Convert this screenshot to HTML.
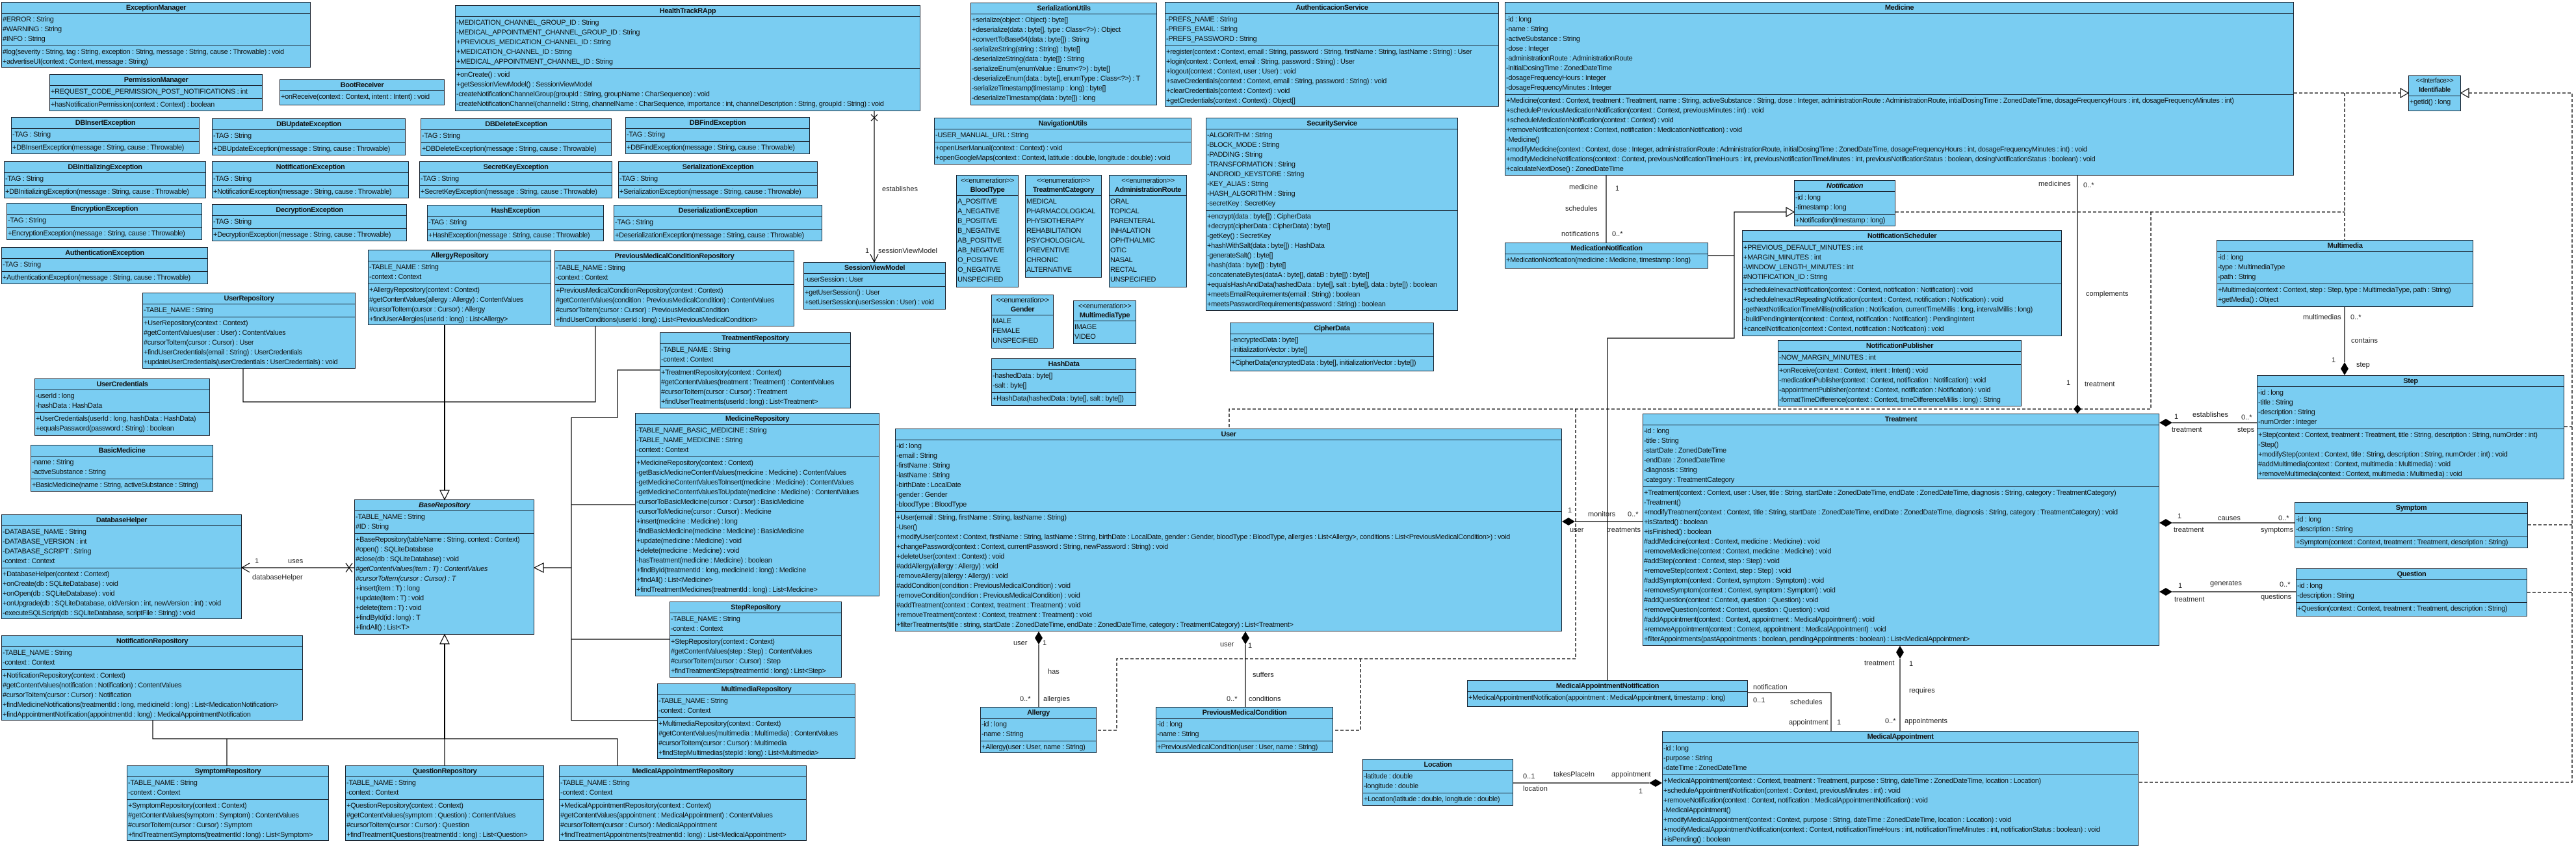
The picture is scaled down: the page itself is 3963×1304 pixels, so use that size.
<!DOCTYPE html>
<html><head><meta charset="utf-8">
<style>
body{margin:0;width:3963px;height:1304px;background:#fff;position:relative;overflow:hidden}
.b{position:absolute;background:#7acdf2;border:1.5px solid #1b2430;box-sizing:border-box;display:flex;flex-direction:column;font:11px "Liberation Sans",Arial,sans-serif;letter-spacing:-0.35px;overflow:hidden;white-space:nowrap;color:#111}
.h{text-align:center;font-weight:bold;border-bottom:1.5px solid #1b2430;line-height:14px;padding:1px 0;flex:none}
.h i{font-weight:bold}
.h span{font-weight:normal;display:block}
.s{line-height:15px;padding:2px 1px;border-bottom:1.5px solid #1b2430;flex:none}
.s:last-child{border-bottom:none;flex:1}
svg{position:absolute;left:0;top:0}
svg text{font:11px "Liberation Sans",Arial,sans-serif;fill:#222}
</style></head><body>

<div class="b" style="left:2px;top:3px;width:476px;height:101px"><div class="h">ExceptionManager</div><div class="s">#ERROR : String<br>#WARNING : String<br>#INFO : String</div><div class="s">#log(severity : String, tag : String, exception : String, message : String, cause : Throwable) : void<br>+advertiseUI(context : Context, message : String)</div></div>
<div class="b" style="left:76px;top:114px;width:328px;height:57px"><div class="h">PermissionManager</div><div class="s">+REQUEST_CODE_PERMISSION_POST_NOTIFICATIONS : int</div><div class="s">+hasNotificationPermission(context : Context) : boolean</div></div>
<div class="b" style="left:430px;top:122px;width:254px;height:40px"><div class="h">BootReceiver</div><div class="s">+onReceive(context : Context, intent : Intent) : void</div></div>

<div class="b" style="left:17px;top:180px;width:290px;height:57px"><div class="h">DBInsertException</div><div class="s">-TAG : String</div><div class="s">+DBInsertException(message : String, cause : Throwable)</div></div>
<div class="b" style="left:326px;top:182px;width:298px;height:57px"><div class="h">DBUpdateException</div><div class="s">-TAG : String</div><div class="s">+DBUpdateException(message : String, cause : Throwable)</div></div>
<div class="b" style="left:647px;top:182px;width:294px;height:58px"><div class="h">DBDeleteException</div><div class="s">-TAG : String</div><div class="s">+DBDeleteException(message : String, cause : Throwable)</div></div>
<div class="b" style="left:962px;top:180px;width:284px;height:57px"><div class="h">DBFindException</div><div class="s">-TAG : String</div><div class="s">+DBFindException(message : String, cause : Throwable)</div></div>
<div class="b" style="left:6px;top:248px;width:311px;height:57px"><div class="h">DBInitializingException</div><div class="s">-TAG : String</div><div class="s">+DBInitializingException(message : String, cause : Throwable)</div></div>
<div class="b" style="left:326px;top:248px;width:303px;height:57px"><div class="h">NotificationException</div><div class="s">-TAG : String</div><div class="s">+NotificationException(message : String, cause : Throwable)</div></div>
<div class="b" style="left:645px;top:248px;width:297px;height:57px"><div class="h">SecretKeyException</div><div class="s">-TAG : String</div><div class="s">+SecretKeyException(message : String, cause : Throwable)</div></div>
<div class="b" style="left:951px;top:248px;width:307px;height:57px"><div class="h">SerializationException</div><div class="s">-TAG : String</div><div class="s">+SerializationException(message : String, cause : Throwable)</div></div>
<div class="b" style="left:10px;top:312px;width:301px;height:57px"><div class="h">EncryptionException</div><div class="s">-TAG : String</div><div class="s">+EncryptionException(message : String, cause : Throwable)</div></div>
<div class="b" style="left:326px;top:314px;width:300px;height:57px"><div class="h">DecryptionException</div><div class="s">-TAG : String</div><div class="s">+DecryptionException(message : String, cause : Throwable)</div></div>
<div class="b" style="left:657px;top:315px;width:272px;height:56px"><div class="h">HashException</div><div class="s">-TAG : String</div><div class="s">+HashException(message : String, cause : Throwable)</div></div>
<div class="b" style="left:944px;top:315px;width:321px;height:56px"><div class="h">DeserializationException</div><div class="s">-TAG : String</div><div class="s">+DeserializationException(message : String, cause : Throwable)</div></div>
<div class="b" style="left:2px;top:380px;width:318px;height:57px"><div class="h">AuthenticationException</div><div class="s">-TAG : String</div><div class="s">+AuthenticationException(message : String, cause : Throwable)</div></div>

<div class="b" style="left:700px;top:8px;width:716px;height:163px"><div class="h">HealthTrackRApp</div><div class="s">-MEDICATION_CHANNEL_GROUP_ID : String<br>-MEDICAL_APPOINTMENT_CHANNEL_GROUP_ID : String<br>+PREVIOUS_MEDICATION_CHANNEL_ID : String<br>+MEDICATION_CHANNEL_ID : String<br>+MEDICAL_APPOINTMENT_CHANNEL_ID : String</div><div class="s">+onCreate() : void<br>+getSessionViewModel() : SessionViewModel<br>-createNotificationChannelGroup(groupId : String, groupName : CharSequence) : void<br>-createNotificationChannel(channelId : String, channelName : CharSequence, importance : int, channelDescription : String, groupId : String) : void</div></div>

<div class="b" style="left:1493px;top:4px;width:287px;height:158px"><div class="h">SerializationUtils</div><div class="s">+serialize(object : Object) : byte[]<br>+deserialize(data : byte[], type : Class&lt;?&gt;) : Object<br>+convertToBase64(data : byte[]) : String<br>-serializeString(string : String) : byte[]<br>-deserializeString(data : byte[]) : String<br>-serializeEnum(enumValue : Enum&lt;?&gt;) : byte[]<br>-deserializeEnum(data : byte[], enumType : Class&lt;?&gt;) : T<br>-serializeTimestamp(timestamp : long) : byte[]<br>-deserializeTimestamp(data : byte[]) : long</div></div>
<div class="b" style="left:1792px;top:3px;width:514px;height:161px"><div class="h">AuthenticacionService</div><div class="s">-PREFS_NAME : String<br>-PREFS_EMAIL : String<br>-PREFS_PASSWORD : String</div><div class="s">+register(context : Context, email : String, password : String, firstName : String, lastName : String) : User<br>+login(context : Context, email : String, password : String) : User<br>+logout(context : Context, user : User) : void<br>+saveCredentials(context : Context, email : String, password : String) : void<br>+clearCredentials(context : Context) : void<br>+getCredentials(context : Context) : Object[]</div></div>
<div class="b" style="left:1437px;top:181px;width:396px;height:72px"><div class="h">NavigationUtils</div><div class="s">-USER_MANUAL_URL : String</div><div class="s">+openUserManual(context : Context) : void<br>+openGoogleMaps(context : Context, latitude : double, longitude : double) : void</div></div>
<div class="b" style="left:1855px;top:181px;width:388px;height:297px"><div class="h">SecurityService</div><div class="s">-ALGORITHM : String<br>-BLOCK_MODE : String<br>-PADDING : String<br>-TRANSFORMATION : String<br>-ANDROID_KEYSTORE : String<br>-KEY_ALIAS : String<br>-HASH_ALGORITHM : String<br>-secretKey : SecretKey</div><div class="s">+encrypt(data : byte[]) : CipherData<br>+decrypt(cipherData : CipherData) : byte[]<br>-getKey() : SecretKey<br>+hashWithSalt(data : byte[]) : HashData<br>-generateSalt() : byte[]<br>+hash(data : byte[]) : byte[]<br>-concatenateBytes(dataA : byte[], dataB : byte[]) : byte[]<br>+equalsHashAndData(hashedData : byte[], salt : byte[], data : byte[]) : boolean<br>+meetsEmailRequirements(email : String) : boolean<br>+meetsPasswordRequirements(password : String) : boolean</div></div>
<div class="b" style="left:1892px;top:496px;width:314px;height:75px"><div class="h">CipherData</div><div class="s">-encryptedData : byte[]<br>-initializationVector : byte[]</div><div class="s">+CipherData(encryptedData : byte[], initializationVector : byte[])</div></div>

<div class="b" style="left:1471px;top:269px;width:96px;height:173px"><div class="h"><span>&lt;&lt;enumeration&gt;&gt;</span>BloodType</div><div class="s">A_POSITIVE<br>A_NEGATIVE<br>B_POSITIVE<br>B_NEGATIVE<br>AB_POSITIVE<br>AB_NEGATIVE<br>O_POSITIVE<br>O_NEGATIVE<br>UNSPECIFIED</div></div>
<div class="b" style="left:1577px;top:269px;width:118px;height:158px"><div class="h"><span>&lt;&lt;enumeration&gt;&gt;</span>TreatmentCategory</div><div class="s">MEDICAL<br>PHARMACOLOGICAL<br>PHYSIOTHERAPY<br>REHABILITATION<br>PSYCHOLOGICAL<br>PREVENTIVE<br>CHRONIC<br>ALTERNATIVE</div></div>
<div class="b" style="left:1706px;top:269px;width:120px;height:173px"><div class="h"><span>&lt;&lt;enumeration&gt;&gt;</span>AdministrationRoute</div><div class="s">ORAL<br>TOPICAL<br>PARENTERAL<br>INHALATION<br>OPHTHALMIC<br>OTIC<br>NASAL<br>RECTAL<br>UNSPECIFIED</div></div>
<div class="b" style="left:1525px;top:453px;width:96px;height:83px"><div class="h"><span>&lt;&lt;enumeration&gt;&gt;</span>Gender</div><div class="s">MALE<br>FEMALE<br>UNSPECIFIED</div></div>
<div class="b" style="left:1651px;top:462px;width:97px;height:67px"><div class="h"><span>&lt;&lt;enumeration&gt;&gt;</span>MultimediaType</div><div class="s">IMAGE<br>VIDEO</div></div>
<div class="b" style="left:1525px;top:551px;width:223px;height:73px"><div class="h">HashData</div><div class="s">-hashedData : byte[]<br>-salt : byte[]</div><div class="s">+HashData(hashedData : byte[], salt : byte[])</div></div>

<div class="b" style="left:1236px;top:403px;width:219px;height:73px"><div class="h">SessionViewModel</div><div class="s">-userSession : User</div><div class="s">+getUserSession() : User<br>+setUserSession(userSession : User) : void</div></div>

<div class="b" style="left:2315px;top:3px;width:1214px;height:267px"><div class="h">Medicine</div><div class="s">-id : long<br>-name : String<br>-activeSubstance : String<br>-dose : Integer<br>-administrationRoute : AdministrationRoute<br>-initialDosingTime : ZonedDateTime<br>-dosageFrequencyHours : Integer<br>-dosageFrequencyMinutes : Integer</div><div class="s">+Medicine(context : Context, treatment : Treatment, name : String, activeSubstance : String, dose : Integer, administrationRoute : AdministrationRoute, intialDosingTime : ZonedDateTime, dosageFrequencyHours : int, dosageFrequencyMinutes : int)<br>+schedulePreviousMedicationNotification(context : Context, previousMinutes : int) : void<br>+scheduleMedicationNotification(context : Context) : void<br>+removeNotification(context : Context, notification : MedicationNotification) : void<br>-Medicine()<br>+modifyMedicine(context : Context, dose : Integer, administrationRoute : AdministrationRoute, initialDosingTime : ZonedDateTime, dosageFrequencyHours : int, dosageFrequencyMinutes : int) : void<br>+modifyMedicineNotifications(context : Context, previousNotificationTimeHours : int, previousNotificationTimeMinutes : int, previousNotificationStatus : boolean, dosingNotificationStatus : boolean) : void<br>+calculateNextDose() : ZonedDateTime</div></div>
<div class="b" style="left:3705px;top:116px;width:81px;height:55px"><div class="h" style="font-size:10px"><span>&lt;&lt;Interface&gt;&gt;</span>Identifiable</div><div class="s">+getId() : long</div></div>

<div class="b" style="left:2315px;top:373px;width:313px;height:40px"><div class="h">MedicationNotification</div><div class="s">+MedicationNotification(medicine : Medicine, timestamp : long)</div></div>
<div class="b" style="left:2760px;top:277px;width:156px;height:71px"><div class="h"><i>Notification</i></div><div class="s">-id : long<br>-timestamp : long</div><div class="s">+Notification(timestamp : long)</div></div>
<div class="b" style="left:2680px;top:354px;width:492px;height:163px"><div class="h">NotificationScheduler</div><div class="s">+PREVIOUS_DEFAULT_MINUTES : int<br>+MARGIN_MINUTES : int<br>-WINDOW_LENGTH_MINUTES : int<br>#NOTIFICATION_ID : String</div><div class="s">+scheduleInexactNotification(context : Context, notification : Notification) : void<br>+scheduleInexactRepeatingNotification(context : Context, notification : Notification) : void<br>-getNextNotificationTimeMillis(notification : Notification, currentTimeMillis : long, intervalMillis : long)<br>-buildPendingIntent(context : Context, notification : Notification) : PendingIntent<br>+cancelNotification(context : Context, notification : Notification) : void</div></div>
<div class="b" style="left:2735px;top:523px;width:375px;height:102px"><div class="h">NotificationPublisher</div><div class="s">-NOW_MARGIN_MINUTES : int</div><div class="s">+onReceive(context : Context, intent : Intent) : void<br>-medicationPublisher(context : Context, notification : Notification) : void<br>-appointmentPublisher(context : Context, notification : Notification) : void<br>-formatTimeDifference(context : Context, timeDifferenceMillis : long) : String</div></div>

<div class="b" style="left:3410px;top:369px;width:395px;height:103px"><div class="h">Multimedia</div><div class="s">-id : long<br>-type : MultimediaType<br>-path : String</div><div class="s">+Multimedia(context : Context, step : Step, type : MultimediaType, path : String)<br>+getMedia() : Object</div></div>
<div class="b" style="left:3472px;top:577px;width:473px;height:160px"><div class="h">Step</div><div class="s">-id : long<br>-title : String<br>-description : String<br>-numOrder : Integer</div><div class="s">+Step(context : Context, treatment : Treatment, title : String, description : String, numOrder : int)<br>-Step()<br>+modifyStep(context : Context, title : String, description : String, numOrder : int) : void<br>#addMultimedia(context : Context, multimedia : Multimedia) : void<br>+removeMultimedia(context : Context, multimedia : Multimedia) : void</div></div>
<div class="b" style="left:3530px;top:772px;width:359px;height:71px"><div class="h">Symptom</div><div class="s">-id : long<br>-description : String</div><div class="s">+Symptom(context : Context, treatment : Treatment, description : String)</div></div>
<div class="b" style="left:3532px;top:874px;width:356px;height:74px"><div class="h">Question</div><div class="s">-id : long<br>-description : String</div><div class="s">+Question(context : Context, treatment : Treatment, description : String)</div></div>

<div class="b" style="left:2527px;top:636px;width:795px;height:357px"><div class="h">Treatment</div><div class="s">-id : long<br>-title : String<br>-startDate : ZonedDateTime<br>-endDate : ZonedDateTime<br>-diagnosis : String<br>-category : TreatmentCategory</div><div class="s">+Treatment(context : Context, user : User, title : String, startDate : ZonedDateTime, endDate : ZonedDateTime, diagnosis : String, category : TreatmentCategory)<br>-Treatment()<br>+modifyTreatment(context : Context, title : String, startDate : ZonedDateTime, endDate : ZonedDateTime, diagnosis : String, category : TreatmentCategory) : void<br>+isStarted() : boolean<br>+isFinished() : boolean<br>#addMedicine(context : Context, medicine : Medicine) : void<br>+removeMedicine(context : Context, medicine : Medicine) : void<br>#addStep(context : Context, step : Step) : void<br>+removeStep(context : Context, step : Step) : void<br>#addSymptom(context : Context, symptom : Symptom) : void<br>+removeSymptom(context : Context, symptom : Symptom) : void<br>#addQuestion(context : Context, question : Question) : void<br>+removeQuestion(context : Context, question : Question) : void<br>#addAppointment(context : Context, appointment : MedicalAppointment) : void<br>+removeAppointment(context : Context, appointment : MedicalAppointment) : void<br>+filterAppointments(pastAppointments : boolean, pendingAppointments : boolean) : List&lt;MedicalAppointment&gt;</div></div>
<div class="b" style="left:2557px;top:1124px;width:733px;height:177px"><div class="h">MedicalAppointment</div><div class="s">-id : long<br>-purpose : String<br>-dateTime : ZonedDateTime</div><div class="s">+MedicalAppointment(context : Context, treatment : Treatment, purpose : String, dateTime : ZonedDateTime, location : Location)<br>+scheduleAppointmentNotification(context : Context, previousMinutes : int) : void<br>+removeNotification(context : Context, notification : MedicalAppointmentNotification) : void<br>-MedicalAppointment()<br>+modifyMedicalAppointment(context : Context, purpose : String, dateTime : ZonedDateTime, location : Location) : void<br>+modifyMedicalAppointmentNotification(context : Context, notificationTimeHours : int, notificationTimeMinutes : int, notificationStatus : boolean) : void<br>+isPending() : boolean</div></div>
<div class="b" style="left:2257px;top:1046px;width:432px;height:41px"><div class="h">MedicalAppointmentNotification</div><div class="s">+MedicalAppointmentNotification(appointment : MedicalAppointment, timestamp : long)</div></div>
<div class="b" style="left:2096px;top:1167px;width:232px;height:72px"><div class="h">Location</div><div class="s">-latitude : double<br>-longitude : double</div><div class="s">+Location(latitude : double, longitude : double)</div></div>

<div class="b" style="left:1377px;top:659px;width:1026px;height:312px"><div class="h">User</div><div class="s">-id : long<br>-email : String<br>-firstName : String<br>-lastName : String<br>-birthDate : LocalDate<br>-gender : Gender<br>-bloodType : BloodType</div><div class="s">+User(email : String, firstName : String, lastName : String)<br>-User()<br>+modifyUser(context : Context, firstName : String, lastName : String, birthDate : LocalDate, gender : Gender, bloodType : BloodType, allergies : List&lt;Allergy&gt;, conditions : List&lt;PreviousMedicalCondition&gt;) : void<br>+changePassword(context : Context, currentPassword : String, newPassword : String) : void<br>+deleteUser(context : Context) : void<br>#addAllergy(allergy : Allergy) : void<br>-removeAllergy(allergy : Allergy) : void<br>#addCondition(condition : PreviousMedicalCondition) : void<br>-removeCondition(condition : PreviousMedicalCondition) : void<br>#addTreatment(context : Context, treatment : Treatment) : void<br>+removeTreatment(context : Context, treatment : Treatment) : void<br>+filterTreatments(title : string, startDate : ZonedDateTime, endDate : ZonedDateTime, category : TreatmentCategory) : List&lt;Treatment&gt;</div></div>
<div class="b" style="left:1508px;top:1087px;width:179px;height:71px"><div class="h">Allergy</div><div class="s">-id : long<br>-name : String</div><div class="s">+Allergy(user : User, name : String)</div></div>
<div class="b" style="left:1778px;top:1087px;width:273px;height:71px"><div class="h">PreviousMedicalCondition</div><div class="s">-id : long<br>-name : String</div><div class="s">+PreviousMedicalCondition(user : User, name : String)</div></div>

<div class="b" style="left:219px;top:450px;width:328px;height:117px"><div class="h">UserRepository</div><div class="s">-TABLE_NAME : String</div><div class="s">+UserRepository(context : Context)<br>#getContentValues(user : User) : ContentValues<br>#cursorToItem(cursor : Cursor) : User<br>+findUserCredentials(email : String) : UserCredentials<br>+updateUserCredentials(userCredentials : UserCredentials) : void</div></div>
<div class="b" style="left:566px;top:384px;width:282px;height:116px"><div class="h">AllergyRepository</div><div class="s">-TABLE_NAME : String<br>-context : Context</div><div class="s">+AllergyRepository(context : Context)<br>#getContentValues(allergy : Allergy) : ContentValues<br>#cursorToItem(cursor : Cursor) : Allergy<br>+findUserAllergies(userId : long) : List&lt;Allergy&gt;</div></div>
<div class="b" style="left:853px;top:385px;width:369px;height:117px"><div class="h">PreviousMedicalConditionRepository</div><div class="s">-TABLE_NAME : String<br>-context : Context</div><div class="s">+PreviousMedicalConditionRepository(context : Context)<br>#getContentValues(condition : PreviousMedicalCondition) : ContentValues<br>#cursorToItem(cursor : Cursor) : PreviousMedicalCondition<br>+findUserConditions(userId : long) : List&lt;PreviousMedicalCondition&gt;</div></div>
<div class="b" style="left:1015px;top:511px;width:294px;height:117px"><div class="h">TreatmentRepository</div><div class="s">-TABLE_NAME : String<br>-context : Context</div><div class="s">+TreatmentRepository(context : Context)<br>#getContentValues(treatment : Treatment) : ContentValues<br>#cursorToItem(cursor : Cursor) : Treatment<br>+findUserTreatments(userId : long) : List&lt;Treatment&gt;</div></div>
<div class="b" style="left:977px;top:635px;width:376px;height:282px"><div class="h">MedicineRepository</div><div class="s">-TABLE_NAME_BASIC_MEDICINE : String<br>-TABLE_NAME_MEDICINE : String<br>-context : Context</div><div class="s">+MedicineRepository(context : Context)<br>-getBasicMedicineContentValues(medicine : Medicine) : ContentValues<br>-getMedicineContentValuesToInsert(medicine : Medicine) : ContentValues<br>-getMedicineContentValuesToUpdate(medicine : Medicine) : ContentValues<br>-cursorToBasicMedicine(cursor : Cursor) : BasicMedicine<br>-cursorToMedicine(cursor : Cursor) : Medicine<br>+insert(medicine : Medicine) : long<br>-findBasicMedicine(medicine : Medicine) : BasicMedicine<br>+update(medicine : Medicine) : void<br>+delete(medicine : Medicine) : void<br>-hasTreatment(medicine : Medicine) : boolean<br>+findById(treatmentId : long, medicineId : long) : Medicine<br>+findAll() : List&lt;Medicine&gt;<br>+findTreatmentMedicines(treatmentId : long) : List&lt;Medicine&gt;</div></div>
<div class="b" style="left:1030px;top:925px;width:265px;height:117px"><div class="h">StepRepository</div><div class="s">-TABLE_NAME : String<br>-context : Context</div><div class="s">+StepRepository(context : Context)<br>#getContentValues(step : Step) : ContentValues<br>#cursorToItem(cursor : Cursor) : Step<br>+findTreatmentSteps(treatmentId : long) : List&lt;Step&gt;</div></div>
<div class="b" style="left:1011px;top:1051px;width:305px;height:116px"><div class="h">MultimediaRepository</div><div class="s">-TABLE_NAME : String<br>-context : Context</div><div class="s">+MultimediaRepository(context : Context)<br>#getContentValues(multimedia : Multimedia) : ContentValues<br>#cursorToItem(cursor : Cursor) : Multimedia<br>+findStepMultimedias(stepId : long) : List&lt;Multimedia&gt;</div></div>
<div class="b" style="left:860px;top:1177px;width:381px;height:116px"><div class="h">MedicalAppointmentRepository</div><div class="s">-TABLE_NAME : String<br>-context : Context</div><div class="s">+MedicalAppointmentRepository(context : Context)<br>#getContentValues(appointment : MedicalAppointment) : ContentValues<br>#cursorToItem(cursor : Cursor) : MedicalAppointment<br>+findTreatmentAppointments(treatmentId : long) : List&lt;MedicalAppointment&gt;</div></div>
<div class="b" style="left:195px;top:1177px;width:311px;height:116px"><div class="h">SymptomRepository</div><div class="s">-TABLE_NAME : String<br>-context : Context</div><div class="s">+SymptomRepository(context : Context)<br>#getContentValues(symptom : Symptom) : ContentValues<br>#cursorToItem(cursor : Cursor) : Symptom<br>+findTreatmentSymptoms(treatmentId : long) : List&lt;Symptom&gt;</div></div>
<div class="b" style="left:531px;top:1177px;width:306px;height:116px"><div class="h">QuestionRepository</div><div class="s">-TABLE_NAME : String<br>-context : Context</div><div class="s">+QuestionRepository(context : Context)<br>#getContentValues(symptom : Question) : ContentValues<br>#cursorToItem(cursor : Cursor) : Question<br>+findTreatmentQuestions(treatmentId : long) : List&lt;Question&gt;</div></div>
<div class="b" style="left:2px;top:977px;width:464px;height:131px"><div class="h">NotificationRepository</div><div class="s">-TABLE_NAME : String<br>-context : Context</div><div class="s">+NotificationRepository(context : Context)<br>#getContentValues(notification : Notification) : ContentValues<br>#cursorToItem(cursor : Cursor) : Notification<br>+findMedicineNotifications(treatmentId : long, medicineId : long) : List&lt;MedicationNotification&gt;<br>+findAppointmentNotification(appointmentId : long) : MedicalAppointmentNotification</div></div>
<div class="b" style="left:2px;top:791px;width:370px;height:161px"><div class="h">DatabaseHelper</div><div class="s">-DATABASE_NAME : String<br>-DATABASE_VERSION : int<br>-DATABASE_SCRIPT : String<br>-context : Context</div><div class="s">+DatabaseHelper(context : Context)<br>+onCreate(db : SQLiteDatabase) : void<br>+onOpen(db : SQLiteDatabase) : void<br>+onUpgrade(db : SQLiteDatabase, oldVersion : int, newVersion : int) : void<br>-executeSQLScript(db : SQLiteDatabase, scriptFile : String) : void</div></div>
<div class="b" style="left:545px;top:768px;width:277px;height:208px"><div class="h"><i>BaseRepository</i></div><div class="s">-TABLE_NAME : String<br>#ID : String</div><div class="s">+BaseRepository(tableName : String, context : Context)<br>#open() : SQLiteDatabase<br>#close(db : SQLiteDatabase) : void<br><i>#getContentValues(item : T) : ContentValues</i><br><i>#cursorToItem(cursor : Cursor) : T</i><br>+insert(item : T) : long<br>+update(item : T) : void<br>+delete(item : T) : void<br>+findById(id : long) : T<br>+findAll() : List&lt;T&gt;</div></div>
<div class="b" style="left:47px;top:684px;width:281px;height:72px"><div class="h">BasicMedicine</div><div class="s">-name : String<br>-activeSubstance : String</div><div class="s">+BasicMedicine(name : String, activeSubstance : String)</div></div>
<div class="b" style="left:53px;top:582px;width:270px;height:88px"><div class="h">UserCredentials</div><div class="s">-userId : long<br>-hashData : HashData</div><div class="s">+UserCredentials(userId : long, hashData : HashData)<br>+equalsPassword(password : String) : boolean</div></div>

<svg width="3963" height="1304" viewBox="0 0 3963 1304">
<g stroke="#000" stroke-width="1.2" fill="none">
<polyline points="374,567 374,618 916,618 916,502"/>
<line x1="684" y1="500" x2="684" y2="754" stroke-width="2"/>
<line x1="836" y1="873" x2="879" y2="873"/>
<line x1="879" y1="642" x2="879" y2="1108"/>
<polyline points="879,642 950,642 950,569 1015,569"/>
<line x1="879" y1="776" x2="977" y2="776"/>
<line x1="879" y1="983" x2="1030" y2="983"/>
<line x1="879" y1="1108" x2="1011" y2="1108"/>
<polyline points="235,1108 235,1136 950,1136 950,1177"/>
<line x1="349" y1="1136" x2="349" y2="1177"/>
<line x1="684" y1="1136" x2="684" y2="1177"/>
<line x1="684" y1="990" x2="684" y2="1136" stroke-width="2"/>
<line x1="372" y1="873" x2="545" y2="873"/>
<polyline points="384,866 372,873 384,880"/>
<line x1="532" y1="866" x2="542" y2="880"/><line x1="532" y1="880" x2="542" y2="866"/>
<line x1="1345" y1="171" x2="1345" y2="403"/>
<line x1="1340" y1="176" x2="1350" y2="186"/><line x1="1340" y1="186" x2="1350" y2="176"/>
<polyline points="1339,391 1345,403 1351,391"/>
<line x1="2471" y1="270" x2="2471" y2="373"/>
<polyline points="2628,393 2668,393"/>
<polyline points="2473,1046 2473,520 2668,520 2668,326 2748,326"/>
<line x1="3196" y1="270" x2="3196" y2="622"/>
<line x1="2423" y1="802" x2="2527" y2="802"/>
<line x1="1598" y1="991" x2="1598" y2="1087"/>
<line x1="1916" y1="991" x2="1916" y2="1087"/>
<line x1="2923" y1="1013" x2="2923" y2="1124"/>
<polyline points="2689,1065 2817,1065 2817,1124"/>
<line x1="2328" y1="1204" x2="2537" y2="1204"/>
<line x1="3342" y1="650" x2="3472" y2="650"/>
<line x1="3342" y1="804" x2="3530" y2="804"/>
<line x1="3342" y1="910" x2="3532" y2="910"/>
<line x1="3607" y1="472" x2="3607" y2="557"/>
</g>
<g stroke="#000" stroke-width="1.2" fill="#fff">
<polygon points="677,754 691,754 684,768"/>
<polygon points="822,873 836,866 836,880"/>
<polygon points="677,990 691,990 684,976"/>
<polygon points="2748,319 2748,333 2760,326"/>
<polygon points="3693,136 3693,150 3705,143"/>
<polygon points="3798,136 3798,150 3786,143"/>
</g>
<g fill="#000">
<polygon points="3196,636 3190,629 3196,622 3202,629"/>
<polygon points="2403,802 2413,796 2423,802 2413,808"/>
<polygon points="1598,971 1592,981 1598,991 1604,981"/>
<polygon points="1916,971 1910,981 1916,991 1922,981"/>
<polygon points="2923,993 2917,1003 2923,1013 2929,1003"/>
<polygon points="2557,1204 2547,1198 2537,1204 2547,1210"/>
<polygon points="3322,650 3332,644 3342,650 3332,656"/>
<polygon points="3322,804 3332,798 3342,804 3332,810"/>
<polygon points="3322,910 3332,904 3342,910 3332,916"/>
<polygon points="3607,577 3601,567 3607,557 3613,567"/>
</g>
<g stroke="#000" stroke-width="1.3" fill="none" stroke-dasharray="5,3">
<line x1="3529" y1="143" x2="3693" y2="143"/>
<polyline points="3798,143 3957,143 3957,1203 3290,1203"/>
<line x1="3889" y1="807" x2="3957" y2="807"/>
<line x1="3888" y1="911" x2="3957" y2="911"/>
<line x1="3945" y1="656" x2="3957" y2="656"/>
<polyline points="3607,143 3607,369"/>
<polyline points="2916,326 3607,326"/>
<polyline points="3309,326 3309,629 1891,629 1891,659"/>
<polyline points="2424,629 2424,1013 1718,1013 1718,1123 1687,1123"/>
<polyline points="2093,1013 2093,1123 2051,1123"/>
</g>
<text x="392" y="866">1</text><text x="443" y="866">uses</text><text x="388" y="891">databaseHelper</text>
<text x="1357" y="294">establishes</text><text x="1331" y="389">1</text><text x="1351" y="389">sessionViewModel</text>
<text x="2414" y="291">medicine</text><text x="2485" y="293">1</text>
<text x="2408" y="324">schedules</text>
<text x="2402" y="363">notifications</text><text x="2480" y="363">0..*</text>
<text x="3136" y="286">medicines</text><text x="3205" y="288">0..*</text>
<text x="3209" y="455">complements</text>
<text x="3179" y="592">1</text><text x="3207" y="594">treatment</text>
<text x="2412" y="788">1</text><text x="2443" y="794">monitors</text><text x="2504" y="794">0..*</text>
<text x="2415" y="818">user</text><text x="2472" y="818">treatments</text>
<text x="1559" y="992">user</text><text x="1604" y="992">1</text><text x="1612" y="1036">has</text>
<text x="1569" y="1078">0..*</text><text x="1605" y="1078">allergies</text>
<text x="1877" y="994">user</text><text x="1920" y="996">1</text><text x="1927" y="1041">suffers</text>
<text x="1887" y="1078">0..*</text><text x="1921" y="1078">conditions</text>
<text x="2868" y="1023">treatment</text><text x="2937" y="1024">1</text><text x="2937" y="1065">requires</text>
<text x="2900" y="1112">0..*</text><text x="2930" y="1112">appointments</text>
<text x="2697" y="1060">notification</text><text x="2697" y="1080">0..1</text><text x="2754" y="1083">schedules</text>
<text x="2752" y="1114">appointment</text><text x="2826" y="1114">1</text>
<text x="2343" y="1197">0..1</text><text x="2390" y="1194">takesPlaceIn</text><text x="2479" y="1194">appointment</text>
<text x="2343" y="1216">location</text><text x="2521" y="1220">1</text>
<text x="3345" y="644">1</text><text x="3373" y="641">establishes</text><text x="3448" y="645">0..*</text>
<text x="3341" y="664">treatment</text><text x="3442" y="664">steps</text>
<text x="3350" y="797">1</text><text x="3412" y="800">causes</text><text x="3505" y="800">0..*</text>
<text x="3344" y="818">treatment</text><text x="3478" y="818">symptoms</text>
<text x="3351" y="904">1</text><text x="3400" y="900">generates</text><text x="3507" y="902">0..*</text>
<text x="3345" y="925">treatment</text><text x="3478" y="921">questions</text>
<text x="3543" y="491">multimedias</text><text x="3616" y="491">0..*</text>
<text x="3617" y="527">contains</text><text x="3587" y="557">1</text><text x="3625" y="564">step</text>
</svg>
</body></html>
